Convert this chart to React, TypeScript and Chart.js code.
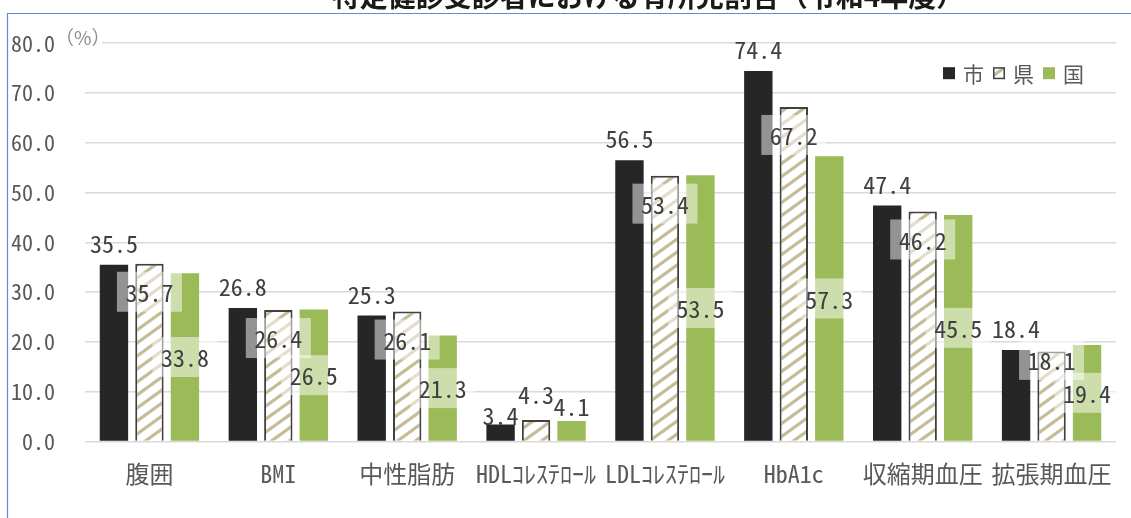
import { useEffect, useRef } from "react";
import { Chart, registerables } from "chart.js";

Chart.register(...registerables);

// ---- data ----
const categories = [
  "腹囲",
  "BMI",
  "中性脂肪",
  "HDLｺﾚｽﾃﾛｰﾙ",
  "LDLｺﾚｽﾃﾛｰﾙ",
  "HbA1c",
  "収縮期血圧",
  "拡張期血圧",
];
const seriesNames = ["市", "県", "国"];
const cityValues = [35.5, 26.8, 25.3, 3.4, 56.5, 74.4, 47.4, 18.4];
const prefValues = [35.7, 26.4, 26.1, 4.3, 53.4, 67.2, 46.2, 18.1];
const nationValues = [33.8, 26.5, 21.3, 4.1, 53.5, 57.3, 45.5, 19.4];
const yMin = 0;
const yMax = 80;
const yStep = 10;
const chartTitle = "特定健診受診者における有所見割合（令和4年度）";
const unitLabel = "（%）";

// ---- styling ----
const W = 1131;
const H = 518;
const MONO = "'Noto Sans Mono CJK JP', 'Noto Sans CJK JP', 'DejaVu Sans Mono', monospace";
const SANS = "'Noto Sans CJK JP', 'Noto Sans', sans-serif";
const CITY_COLOR = "#262626";
const NATION_COLOR = "#9BBB59";
const HATCH_COLOR = "#C4BD97";
const EDGE_COLOR = "#404040";
const TEXT_COLOR = "#595959";
const LABEL_COLOR = "#404040";
const GRID_COLOR = "#D9D9D9";
const FRAME_COLOR = "#5B8FD5";

function makeHatch(): CanvasPattern | string {
  const w = 18;
  const h = 13;
  const c = document.createElement("canvas");
  c.width = w;
  c.height = h;
  const g = c.getContext("2d");
  if (!g) return "#ffffff";
  g.fillStyle = "#ffffff";
  g.fillRect(0, 0, w, h);
  g.strokeStyle = HATCH_COLOR;
  g.lineWidth = 3.2;
  for (let k = 0; k <= 2; k++) {
    g.beginPath();
    g.moveTo(-w, k * h + h);
    g.lineTo(2 * w, k * h - 2 * h);
    g.stroke();
  }
  const p = g.createPattern(c, "repeat");
  return p || "#ffffff";
}

// label placement: 市 above the bar, 県 just inside the top, 国 in the middle;
// bars too short to hold a label get it above the bar instead
const SHORT_BAR = 45;
const labelNudge: Record<string, number> = { "1-7": -19.5 };

const decorPlugin = {
  id: "decor",
  afterDatasetsDraw(chart: any) {
    const ctx: CanvasRenderingContext2D = chart.ctx;
    ctx.save();
    ctx.font = `24px ${MONO}`;
    ctx.textAlign = "center";
    ctx.textBaseline = "middle";
    chart.data.datasets.forEach((ds: any, i: number) => {
      const meta = chart.getDatasetMeta(i);
      meta.data.forEach((bar: any, j: number) => {
        const v = ds.data[j] as number;
        const hgt = bar.base - bar.y;
        const short = hgt < SHORT_BAR;
        let cy: number;
        if (i === 0) {
          cy = short ? bar.y - 10 : bar.y - 22;
        } else if (i === 1) {
          cy = short ? bar.y - 26.5 : bar.y + 28;
        } else {
          cy = short ? bar.y - 15.5 : (bar.y + bar.base) / 2;
        }
        cy += labelNudge[`${i}-${j}`] || 0;
        if (i > 0 && !short) {
          ctx.fillStyle = "rgba(255,255,255,0.5)";
          ctx.fillRect(bar.x - 32.5, cy - 20, 65, 40);
        }
        ctx.fillStyle = LABEL_COLOR;
        ctx.fillText(v.toFixed(1), bar.x, cy + 1);
      });
    });
    ctx.restore();
  },
  afterDraw(chart: any) {
    const ctx: CanvasRenderingContext2D = chart.ctx;
    const area = chart.chartArea;
    ctx.save();

    // frame
    ctx.strokeStyle = FRAME_COLOR;
    ctx.lineWidth = 1.2;
    ctx.beginPath();
    ctx.moveTo(7.5, H);
    ctx.lineTo(7.5, 13.5);
    ctx.lineTo(W, 13.5);
    ctx.stroke();

    // title (sits above the frame)
    ctx.fillStyle = "#1a1a1a";
    ctx.font = `bold 28px ${SANS}`;
    ctx.textAlign = "center";
    ctx.textBaseline = "alphabetic";
    ctx.fillText(chartTitle, 648, 7);

    // unit label
    ctx.fillStyle = "#ffffff";
    ctx.fillRect(area.left - 1, area.top - 4, 18, 8);
    ctx.fillStyle = "#8c8c8c";
    ctx.font = `19px ${SANS}`;
    ctx.textAlign = "left";
    ctx.textBaseline = "middle";
    ctx.fillText(unitLabel, area.left - 30, area.top - 5);

    // legend
    const fills = [CITY_COLOR, chart.data.datasets[1].backgroundColor, NATION_COLOR];
    let x = area.right - 173;
    const cy = area.top + 30;
    ctx.font = `21px ${SANS}`;
    ctx.textBaseline = "middle";
    seriesNames.forEach((name, k) => {
      ctx.fillStyle = fills[k];
      ctx.fillRect(x, cy - 6, 12, 12);
      if (k === 1) {
        ctx.strokeStyle = EDGE_COLOR;
        ctx.lineWidth = 1.5;
        ctx.strokeRect(x + 0.75, cy - 5.25, 10.5, 10.5);
      }
      x += 20;
      ctx.fillStyle = TEXT_COLOR;
      ctx.fillText(name, x, cy + 1);
      x += ctx.measureText(name).width + 9;
    });
    ctx.restore();
  },
};

export default function App() {
  const ref = useRef<HTMLCanvasElement | null>(null);

  useEffect(() => {
    if (!ref.current) return;
    const hatch = makeHatch();
    const chart = new Chart(ref.current, {
      type: "bar",
      data: {
        labels: categories,
        datasets: [
          {
            label: seriesNames[0],
            data: cityValues,
            backgroundColor: CITY_COLOR,
            borderWidth: 0,
          },
          {
            label: seriesNames[1],
            data: prefValues,
            backgroundColor: hatch as any,
            borderColor: EDGE_COLOR,
            borderWidth: 2,
          },
          {
            label: seriesNames[2],
            data: nationValues,
            backgroundColor: NATION_COLOR,
            borderWidth: 0,
          },
        ],
      },
      options: {
        responsive: false,
        animation: false,
        events: [],
        layout: { padding: { left: 0, right: 15, top: 39, bottom: 0 } },
        datasets: {
          bar: { categoryPercentage: 0.826, barPercentage: 0.8 },
        },
        scales: {
          x: {
            grid: { display: false },
            border: { display: false },
            ticks: {
              color: TEXT_COLOR,
              font: { family: MONO, size: 24 },
              padding: 10,
              maxRotation: 0,
              minRotation: 0,
              autoSkip: false,
            },
            afterFit: (s: any) => {
              s.height = 76.5;
            },
          },
          y: {
            min: yMin,
            max: yMax,
            grid: { color: GRID_COLOR, lineWidth: 1.5, drawTicks: false },
            border: { display: false },
            ticks: {
              stepSize: yStep,
              color: TEXT_COLOR,
              font: { family: MONO, size: 22 },
              padding: 30,
              callback: (v: any) => Number(v).toFixed(1),
            },
            afterFit: (s: any) => {
              s.width = 85;
            },
          },
        },
        plugins: {
          legend: { display: false },
          tooltip: { enabled: false },
          title: { display: false },
        },
      },
      plugins: [decorPlugin],
    });
    return () => chart.destroy();
  }, []);

  return (
    <div
      style={{
        position: "fixed",
        left: 0,
        top: 0,
        width: W,
        height: H,
        background: "#ffffff",
        overflow: "hidden",
      }}
    >
      <canvas ref={ref} width={W} height={H} style={{ display: "block" }} />
    </div>
  );
}
